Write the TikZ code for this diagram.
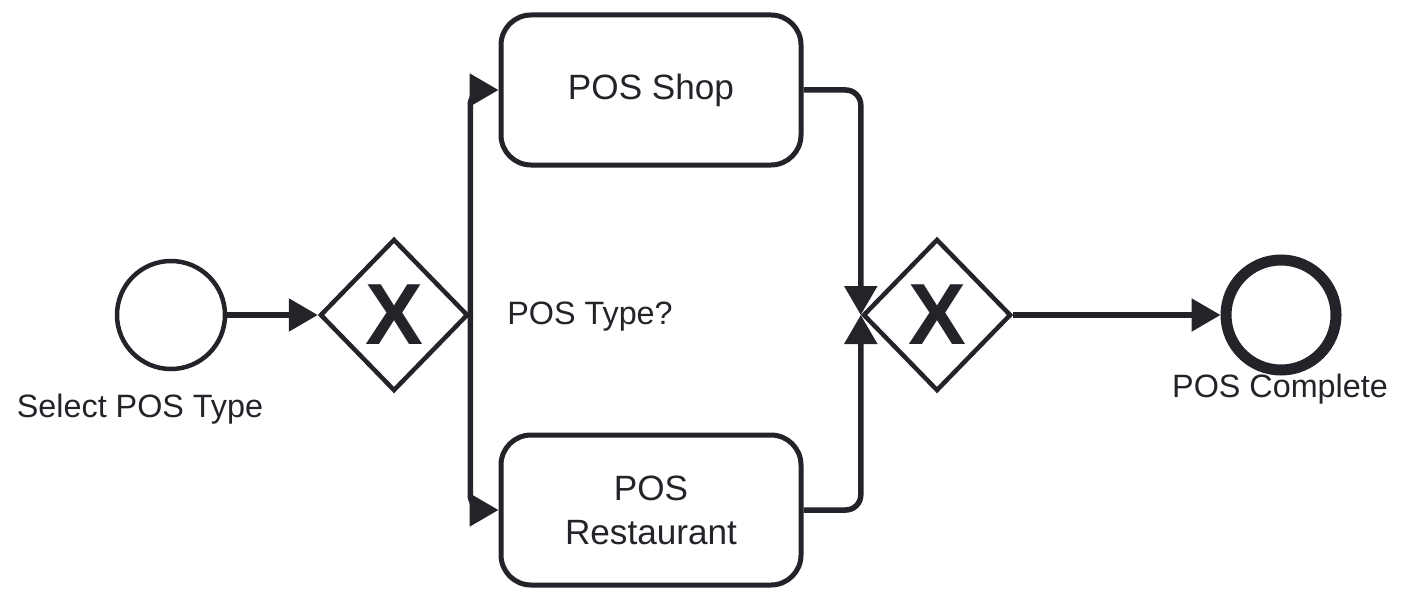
\documentclass[tikz,border=0pt]{standalone}
\usepackage{fontspec}
\setmainfont{Liberation Sans}
\usetikzlibrary{arrows.meta,
  positioning,
  shapes.geometric
}
\definecolor{ink}{RGB}{34,36,41}

\begin{document}
\begin{tikzpicture}[
  task/.style={draw=ink,line width=0.05cm,rounded corners=0.3cm,
    minimum width=3cm,minimum height=1.5cm,align=center,text=ink,
    font=\fontsize{10}{12.5}\selectfont},
  gateway/.style={diamond,draw=ink,line width=0.045cm,
    minimum width=1.48cm,minimum height=1.52cm,inner sep=0pt},
  xmark/.style={text=ink,inner sep=0pt,font=\fontsize{24.7}{25}\selectfont\bfseries},
  event/.style={circle,draw=ink,minimum size=1.08cm,inner sep=0pt},
  caption/.style={text=ink,anchor=base,inner sep=0pt,font=\fontsize{9.2}{11}\selectfont},
  flow/.style={draw=ink,line width=0.055cm,rounded corners=0.15cm,
    -{Triangle[length=0.29cm,width=0.32cm]}}
]
  \useasboundingbox (0,0) rectangle (14.07,6);

  % events
  \node[event,line width=0.045cm] (start) at (1.71,2.85) {};
  \node[event,line width=0.11cm,minimum size=1.1cm] (finish) at (12.81,2.85) {};

  % gateways
  \node[gateway] (split) at (3.94,2.85) {};
  \node[xmark] (splitX) at (split.center) {X};
  \node[gateway] (merge) at (9.37,2.85) {};
  \node[xmark] (mergeX) at (merge.center) {X};

  % tasks
  \node[task] (shop) at (6.51,5.10) {POS Shop};
  \node[task] (restaurant) at (6.51,0.90) {POS\\Restaurant};

  % flows
  \draw[flow] (start) -- (split);
  \draw[flow] (split.east) |- (shop.west);
  \draw[flow] (split.east) |- (restaurant.west);
  \draw[flow] (shop.east) -| (merge.west);
  \draw[flow] (restaurant.east) -| (merge.west);
  \draw[flow] (merge) -- (finish);

  % labels
  \node[caption] (startLabel) at (1.40,1.83) {Select POS Type};
  \node[caption] (splitLabel) at (5.90,2.76) {POS Type?};
  \node[caption] (finishLabel) at (12.80,2.03) {POS Complete};
\end{tikzpicture}
\end{document}
